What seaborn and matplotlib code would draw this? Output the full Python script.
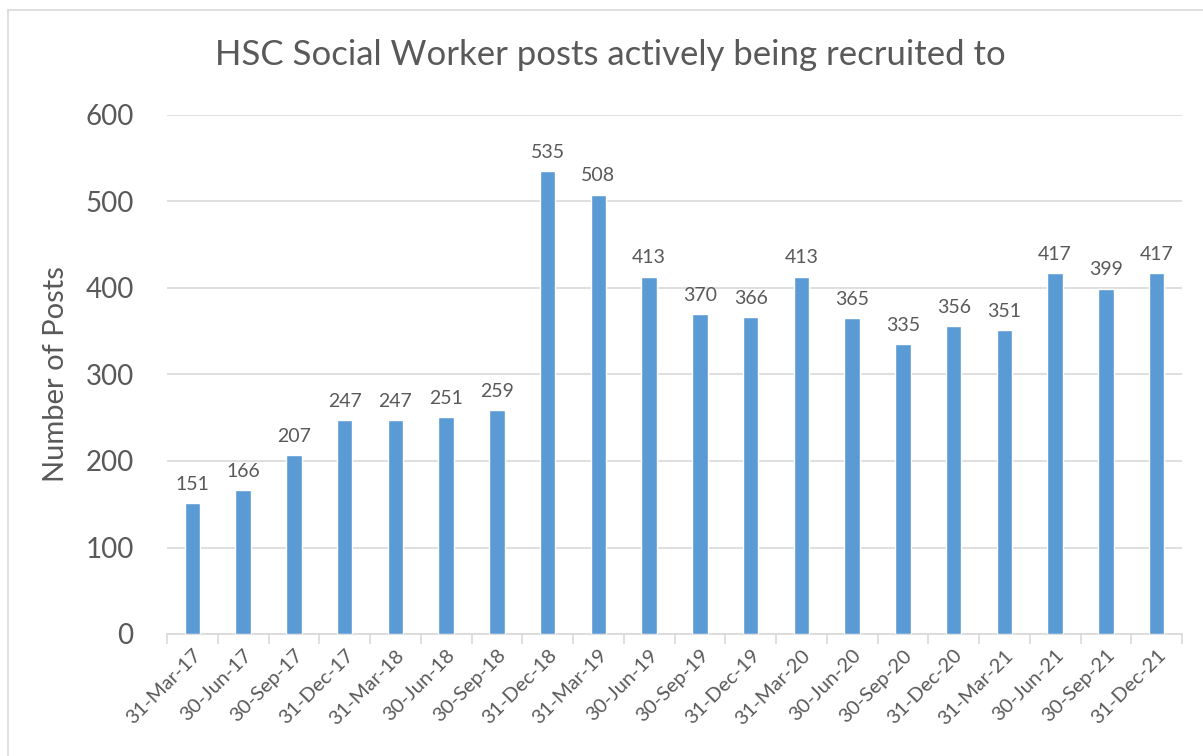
import numpy as np
import pandas as pd
import seaborn as sns
import matplotlib.pyplot as plt
from matplotlib.patches import Rectangle
from matplotlib.ticker import FixedLocator, NullFormatter

# data
dates = ['31-Mar-17', '30-Jun-17', '30-Sep-17', '31-Dec-17', '31-Mar-18', '30-Jun-18',
         '30-Sep-18', '31-Dec-18', '31-Mar-19', '30-Jun-19', '30-Sep-19', '31-Dec-19',
         '31-Mar-20', '30-Jun-20', '30-Sep-20', '31-Dec-20', '31-Mar-21', '30-Jun-21',
         '30-Sep-21', '31-Dec-21']
posts = [151, 166, 207, 247, 247, 251, 259, 535, 508, 413, 370, 366, 413, 365, 335,
         356, 351, 417, 399, 417]

df = pd.DataFrame({'date': dates, 'posts': posts})

sns.set_style('white')
plt.rcParams['font.family'] = ['Lato', 'DejaVu Sans']

text_col = '#595959'
grid_col = '#D9D9D9'

fig = plt.figure(figsize=(12.03, 7.56), dpi=100)
ax = fig.add_axes([167 / 1203, 1 - 634 / 756, (1182 - 167) / 1203, (634 - 115) / 756])

sns.barplot(data=df, x='date', y='posts', color='#5B9BD5', width=0.31,
            saturation=1, ax=ax, zorder=3)

ax.set_ylim(0, 600)
ax.set_xlim(-0.5, len(dates) - 0.5)
ax.set_yticks(range(0, 601, 100))
ax.yaxis.grid(True, color=grid_col, linewidth=1.2, zorder=0)
ax.set_axisbelow(True)

for s in ['top', 'right', 'left']:
    ax.spines[s].set_visible(False)
ax.spines['bottom'].set_color(grid_col)
ax.spines['bottom'].set_linewidth(1.2)

# data labels
for i, v in enumerate(posts):
    ax.text(i, v + 12, str(v), ha='center', va='bottom', fontsize=14, color=text_col)

# tick marks between categories
ax.xaxis.set_minor_locator(FixedLocator(np.arange(-0.5, len(dates), 1)))
ax.xaxis.set_minor_formatter(NullFormatter())
ax.tick_params(axis='x', which='minor', length=7, width=1.2, color=grid_col, bottom=True)
ax.tick_params(axis='x', which='major', length=0, pad=9)
ax.tick_params(axis='y', length=0, pad=24, labelsize=20, labelcolor=text_col)
ax.set_xticks(range(len(dates)))
ax.set_xticklabels(dates, rotation=45, ha='right', rotation_mode='anchor',
                   fontsize=14.5, color=text_col)

ax.set_xlabel('')
ax.set_ylabel('Number of Posts', fontsize=21, color=text_col, labelpad=12)
fig.text(610 / 1203, 1 - 55 / 756, 'HSC Social Worker posts actively being recruited to',
         ha='center', va='center', fontsize=25, color=text_col)

# chart border
fig.patches.append(Rectangle((8 / 1203, -0.1), 1.2, 1 - 10 / 756 + 0.1,
                             transform=fig.transFigure, fill=False,
                             edgecolor=grid_col, linewidth=1.2))

fig.savefig('out.png', dpi=100)
